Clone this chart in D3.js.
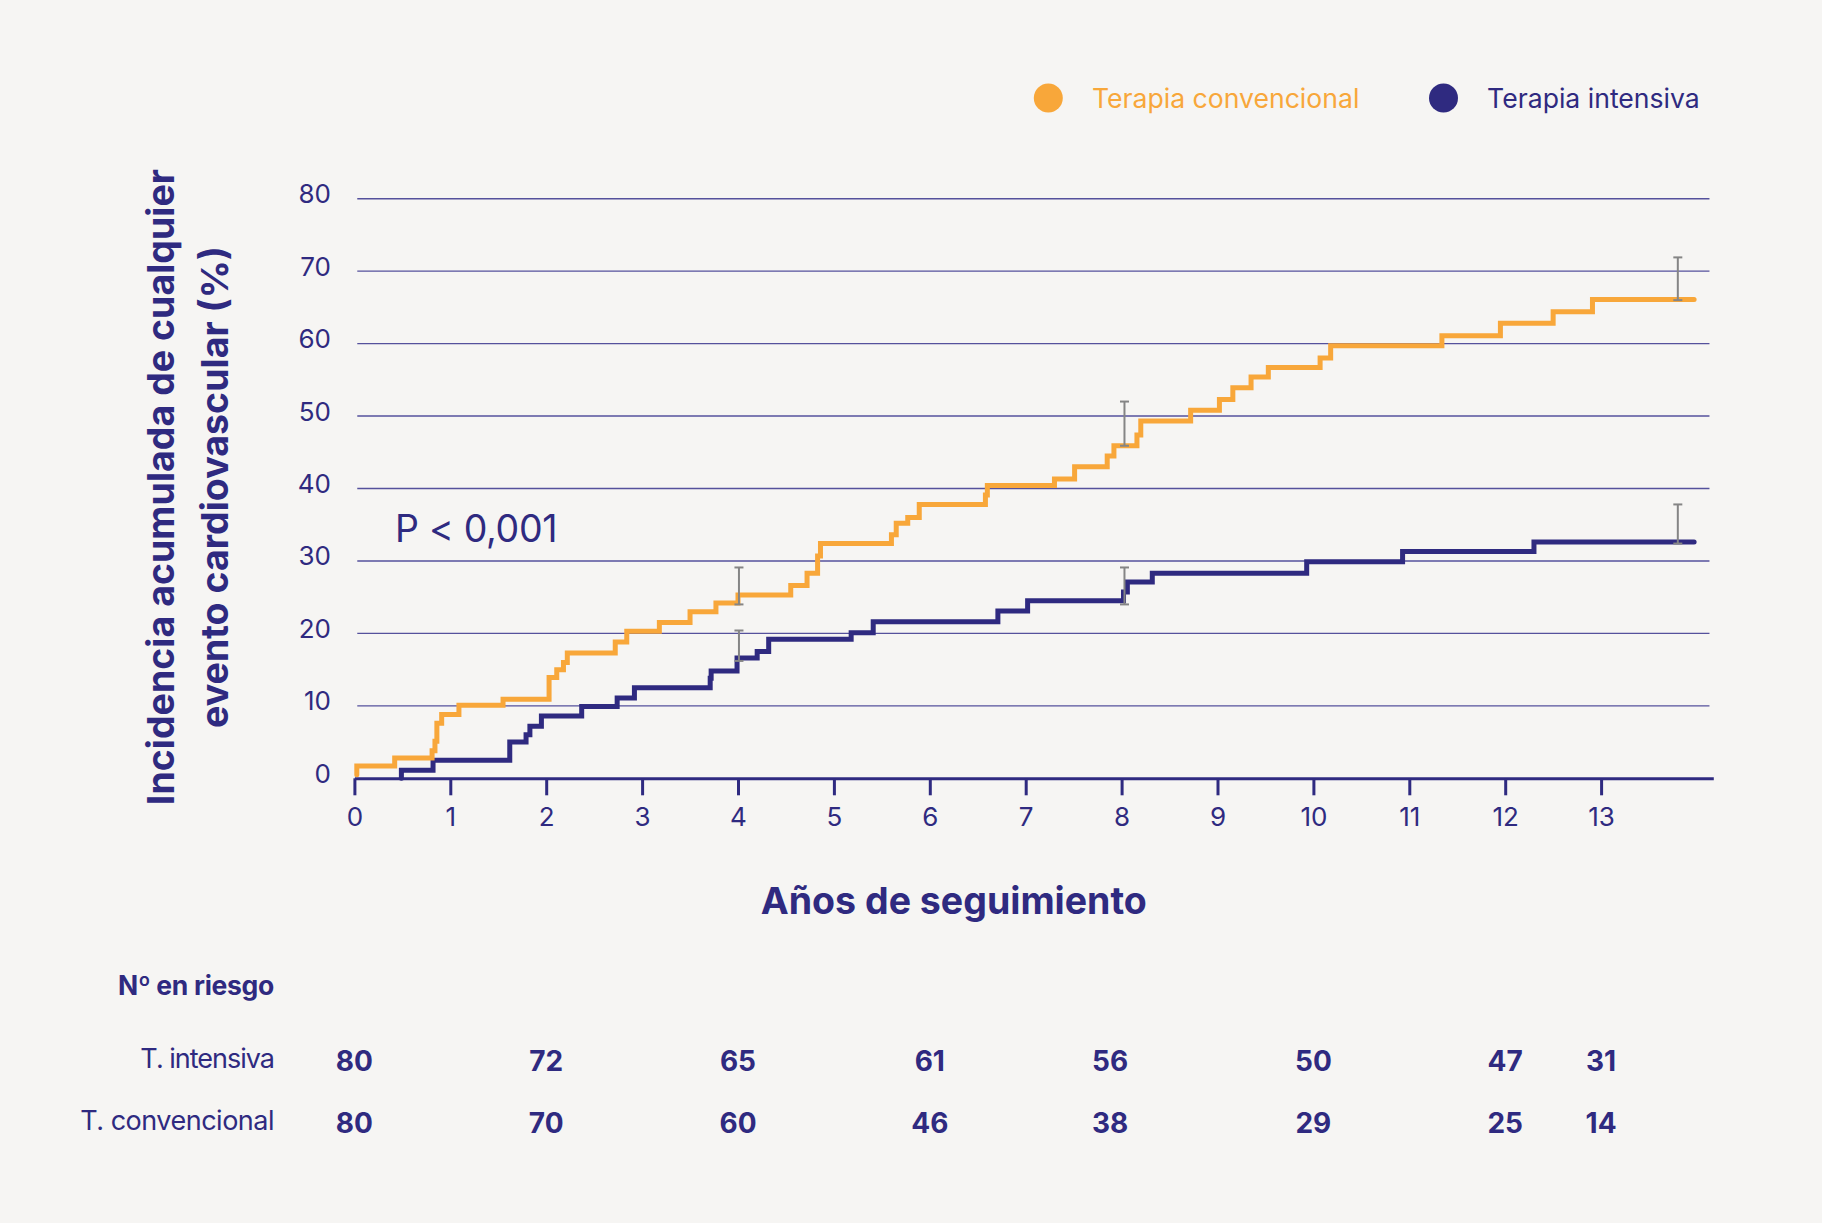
<!DOCTYPE html>
<html><head><meta charset="utf-8">
<script src="https://cdn.jsdelivr.net/npm/d3@7"></script>
<style>
html,body{margin:0;padding:0;background:#f6f5f3;}
svg{display:block;font-family:Inter,"Noto Sans",sans-serif;}
</style></head><body>
<svg id="chart" width="1822" height="1223"></svg>
<script>
// ---- data ----
const seriesNames = ["Terapia convencional", "Terapia intensiva"];
const convTimes  = [0.025,0.025,0.42,0.81,0.84,0.86,0.91,1.09,1.55,2.03,2.11,2.18,2.22,2.72,2.84,3.18,3.50,3.77,4.00,4.55,4.72,4.83,4.86,5.60,5.65,5.77,5.89,6.58,6.60,7.30,7.51,7.85,7.92,8.16,8.20,8.72,9.02,9.16,9.35,9.53,10.07,10.18,11.34,11.95,12.50,12.91,13.97];
const convValues = [0.5,1.7,2.8,3.8,5.1,7.6,8.8,10.1,10.9,13.9,15.0,16.0,17.3,18.8,20.3,21.5,23.0,24.2,25.3,26.6,28.3,30.7,32.4,33.6,35.2,36.0,37.8,39.1,40.4,41.3,43.0,44.5,45.9,47.4,49.3,50.8,52.3,53.9,55.4,56.7,58.0,59.7,61.1,62.8,64.4,66.1,66.1];
const intTimes   = [0.49,0.49,0.82,1.62,1.79,1.83,1.95,2.37,2.74,2.92,3.71,3.72,3.99,4.20,4.32,5.18,5.41,6.71,7.02,8.02,8.06,8.32,9.93,10.93,12.30,13.97];
const intValues  = [0,1.1,2.5,5.0,6.0,7.2,8.6,9.9,11.1,12.5,13.8,14.8,16.6,17.5,19.2,20.1,21.6,23.1,24.5,25.7,27.1,28.3,29.9,31.3,32.6,32.6];
const errTimes    = [4.01, 8.03, 13.80];
const convErrLow  = [24.0, 45.9, 66.0];
const convErrHigh = [29.1, 52.0, 71.9];
const intErrLow   = [16.2, 24.0, 32.4];
const intErrHigh  = [20.4, 29.1, 37.8];
const xTicks = [0,1,2,3,4,5,6,7,8,9,10,11,12,13];
const yTicks = [0,10,20,30,40,50,60,70,80];
const riskTimes = [0,2,4,6,7.88,10,12,13];
const riskRowLabels = ["T. intensiva", "T. convencional"];
const riskIntensiva = [80,72,65,61,56,50,47,31];
const riskConvencional = [80,70,60,46,38,29,25,14];
const pText = "P < 0,001";
const yTitle = ["Incidencia acumulada de cualquier", "evento cardiovascular (%)"];
const xTitle = "Años de seguimiento";
const riskTitle = "Nº en riesgo";

// ---- style ----
const NAVY = "#2f2a80", ORANGE = "#f8a73a", GRID = "#55519c", ERR = "#858585";

const svg = d3.select("#chart");
svg.append("rect").attr("width",1822).attr("height",1223).attr("fill","#f6f5f3");

const x = d3.scaleLinear().domain([0, 14.17]).range([354.4, 1713.3]);
const y = d3.scaleLinear().domain([0, 80]).range([778.3, 198.7]);

// gridlines
svg.append("g").selectAll("line").data(yTicks.filter(d=>d>0)).join("line")
  .attr("x1", x(0.03)).attr("x2", x(14.13))
  .attr("y1", d=>y(d)).attr("y2", d=>y(d))
  .attr("stroke", GRID).attr("stroke-width", 1.4);

// y labels
svg.append("g").selectAll("text").data(yTicks).join("text")
  .attr("x", 331).attr("y", d=>y(d)+4.5).attr("text-anchor","end")
  .attr("font-size", 26).attr("fill", NAVY).text(d=>d);

// x axis
const xAxis = d3.axisBottom(x).tickValues(xTicks).tickSize(17).tickSizeOuter(0).tickPadding(12);
const gx = svg.append("g").attr("transform",`translate(0,${y(0)})`).call(xAxis);
gx.select(".domain").attr("stroke", NAVY).attr("stroke-width", 3);
gx.selectAll(".tick line").attr("stroke", NAVY).attr("stroke-width", 3);
gx.selectAll(".tick text").attr("fill", NAVY).attr("font-size", 26).attr("font-family","Inter,sans-serif");

// curves
const line = d3.line().x(d=>x(d[0])).y(d=>y(d[1])).curve(d3.curveStepAfter);
const convPts = convTimes.map((t,i)=>[t, convValues[i]]);
const intPts = intTimes.map((t,i)=>[t, intValues[i]]);
svg.append("path").attr("d", line(intPts)).attr("fill","none").attr("stroke", NAVY)
  .attr("stroke-width", 5).attr("stroke-linecap","round").attr("stroke-linejoin","miter");
svg.append("path").attr("d", line(convPts)).attr("fill","none").attr("stroke", ORANGE)
  .attr("stroke-width", 5).attr("stroke-linecap","round").attr("stroke-linejoin","miter");

// error bars
function errBars(lows, highs){
  const g = svg.append("g").attr("stroke", ERR).attr("stroke-width", 2);
  errTimes.forEach((t,i)=>{
    const cx = x(t);
    g.append("line").attr("x1",cx).attr("x2",cx).attr("y1",y(lows[i])).attr("y2",y(highs[i]));
    g.append("line").attr("x1",cx-4.5).attr("x2",cx+4.5).attr("y1",y(lows[i])).attr("y2",y(lows[i]));
    g.append("line").attr("x1",cx-4.5).attr("x2",cx+4.5).attr("y1",y(highs[i])).attr("y2",y(highs[i]));
  });
}
errBars(convErrLow, convErrHigh);
errBars(intErrLow, intErrHigh);

// P value
svg.append("text").attr("x", 395).attr("y", 541.5).attr("font-size", 37.5)
  .attr("fill", NAVY).attr("letter-spacing", -0.3).text(pText);

// y title
const yt = svg.append("text").attr("transform","translate(174,487) rotate(-90)")
  .attr("text-anchor","middle").attr("font-size", 37.5).attr("font-weight", 700).attr("fill", NAVY);
yt.append("tspan").attr("x",0).attr("y",0).text(yTitle[0]);
yt.append("tspan").attr("x",0).attr("y",54).text(yTitle[1]);

// x title
svg.append("text").attr("x", 953.8).attr("y", 914).attr("text-anchor","middle")
  .attr("font-size", 37.5).attr("font-weight", 700).attr("fill", NAVY).text(xTitle);

// legend
const legX = [1048.3, 1443.5];
const legColors = [ORANGE, NAVY];
const lg = svg.append("g");
seriesNames.forEach((n,i)=>{
  lg.append("circle").attr("cx", legX[i]).attr("cy", 98).attr("r", 14.5).attr("fill", legColors[i]);
  lg.append("text").attr("x", legX[i]+43.6).attr("y", 108).attr("font-size", 26.6)
    .attr("fill", legColors[i]).text(n);
});

// risk table
svg.append("text").attr("x", 274).attr("y", 995).attr("text-anchor","end")
  .attr("font-size", 26.5).attr("font-weight", 700).attr("fill", NAVY).attr("letter-spacing", -0.3).text(riskTitle);
const rowY = [1068, 1130];
const rows = [riskIntensiva, riskConvencional];
rows.forEach((vals, r)=>{
  svg.append("text").attr("x", 274).attr("y", rowY[r]).attr("text-anchor","end")
    .attr("font-size", 27).attr("fill", NAVY).attr("letter-spacing", r === 0 ? -1 : -0.5).text(riskRowLabels[r]);
  svg.append("g").selectAll("text").data(vals).join("text")
    .attr("x", (d,i)=>x(riskTimes[i])).attr("y", rowY[r]+2.5).attr("text-anchor","middle")
    .attr("font-size", 28).attr("font-weight", 700).attr("fill", NAVY).text(d=>d);
});
</script>
</body></html>
